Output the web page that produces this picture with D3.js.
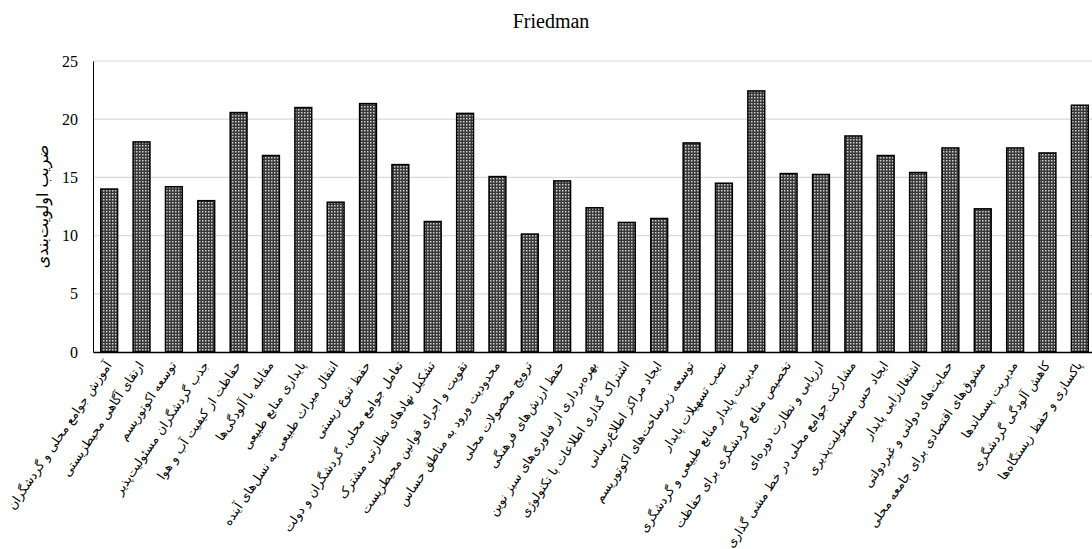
<!DOCTYPE html>
<html>
<head>
<meta charset="utf-8">
<script src="https://cdn.jsdelivr.net/npm/d3@7/dist/d3.min.js"></script>
<style>
  body { margin: 0; background: #fff; }
  svg { display: block; }
</style>
</head>
<body>
<svg id="chart"></svg>
<script>
// معیارها (به ترتیب نمودار)
const categories = [
    "آموزش جوامع محلی و گردشگران",
    "ارتقای آگاهی محیطزیستی",
    "توسعه اکوتوریسم",
    "جذب گردشگران مسئولیت‌پذیر",
    "حفاظت از کیفیت آب و هوا",
    "مقابله با آلودگی‌ها",
    "پایداری منابع طبیعی",
    "انتقال میراث طبیعی به نسل‌های آینده",
    "حفظ تنوع زیستی",
    "تعامل جوامع محلی، گردشگران و دولت",
    "تشکیل نهادهای نظارتی مشترک",
    "تقویت و اجرای قوانین محیطزیست",
    "محدودیت ورود به مناطق حساس",
    "ترویج محصولات محلی",
    "حفظ ارزش‌های فرهنگی",
    "بهره‌برداری از فناوری‌های سبز نوین",
    "اشتراک گذاری اطلاعات با تکنولوژی",
    "ایجاد مراکز اطلاع‌رسانی",
    "توسعه زیرساخت‌های اکوتوریسم",
    "نصب تسهیلات پایدار",
    "مدیریت پایدار منابع طبیعی و گردشگری",
    "تخصیص منابع گردشگری برای حفاظت",
    "ارزیابی و نظارت دوره‌ای",
    "مشارکت جوامع محلی در خط مشی گذاری",
    "ایجاد حس مسئولیت‌پذیری",
    "اشتغال‌زایی پایدار",
    "حمایت‌های دولتی و غیردولتی",
    "مشوق‌های اقتصادی برای جامعه محلی",
    "مدیریت پسماندها",
    "کاهش آلودگی گردشگری",
    "پاکسازی و حفظ زیستگاه‌ها"
]

// ضریب اولویت‌بندی (Friedman)
const values = [
    14.0, 18.05, 14.2, 13.0, 20.57, 16.88, 21.0, 12.87, 21.34, 16.1,
    11.21, 20.5, 15.07, 10.13, 14.7, 12.39, 11.13, 11.47, 17.96, 14.5,
    22.43, 15.33, 15.25, 18.56, 16.88, 15.42, 17.53, 12.3, 17.53, 17.1,
    21.2
]

const yTicks = [0, 5, 10, 15, 20, 25]

const TITLE = "Friedman"
const Y_TITLE = "ضریب اولویت‌بندی"

const WIDTH = 1092
const HEIGHT = 549
const LEFT = 93
const RIGHT = 1096
const TOP = 61
const BOTTOM = 352
const SERIF = "'Liberation Serif', 'Times New Roman', 'DejaVu Serif', serif"
const FA_FONT = "'DejaVu Sans', 'Noto Sans', sans-serif"

let svg = d3.select("#chart")
    .attr("width", WIDTH)
    .attr("height", HEIGHT)

// الگوی هاشور میله‌ها
let defs = svg.append("defs")
let pat = defs.append("pattern")
    .attr("id", "hatch")
    .attr("patternUnits", "userSpaceOnUse")
    .attr("width", 3)
    .attr("height", 3)
pat.append("rect")
    .attr("width", 3)
    .attr("height", 3)
    .style("fill", "#383838")
pat.append("rect")
    .attr("x", 1)
    .attr("y", 1)
    .attr("width", 1.5)
    .attr("height", 1.5)
    .style("fill", "#d0d0d0")

let xs = d3.scaleBand()
    .domain(categories)
    .range([LEFT, RIGHT])
    .paddingInner(0.48)
    .paddingOuter(0.24)

let ys = d3.scaleLinear()
    .domain([0, 25])
    .range([BOTTOM, TOP])

// خطوط شبکه
svg.append("g")
    .selectAll("line")
    .data(yTicks.filter(d => d > 0))
    .enter()
    .append("line")
    .attr("x1", LEFT)
    .attr("x2", WIDTH)
    .attr("y1", d => ys(d))
    .attr("y2", d => ys(d))
    .style("stroke", "#d9d9d9")
    .style("stroke-width", 1.2)

// y axis
let yAxis = svg.append("g")
    .attr("transform", `translate(${LEFT},0)`)
    .call(d3.axisLeft(ys).tickValues(yTicks).tickSize(0).tickPadding(15))
yAxis.select(".domain").style("stroke", "#000").style("stroke-width", 1)
yAxis.selectAll("text")
    .style("font-family", SERIF)
    .style("font-size", "16px")
    .style("fill", "#000")

// bars
svg.append("g")
    .selectAll("rect")
    .data(values)
    .enter()
    .append("rect")
    .attr("x", (d, i) => xs(categories[i]))
    .attr("y", d => ys(d))
    .attr("width", xs.bandwidth())
    .attr("height", d => ys(0) - ys(d))
    .style("fill", "url(#hatch)")
    .style("stroke", "#000")
    .style("stroke-width", 1.5)

// x axis
let xAxis = svg.append("g")
    .attr("transform", `translate(0,${BOTTOM})`)
    .call(d3.axisBottom(xs).tickSize(0).tickFormat(""))
xAxis.select(".domain").style("stroke", "#000").style("stroke-width", 1.5)

// برچسب‌های محور افقی
svg.append("g")
    .selectAll("text")
    .data(categories)
    .enter()
    .append("text")
    .text(d => d)
    .attr("transform", d => `translate(${xs(d) + xs.bandwidth() / 2 + 3},${BOTTOM + 13}) rotate(-56)`)
    .style("text-anchor", "end")
    .style("font-family", FA_FONT)
    .style("font-size", "12.5px")
    .style("fill", "#000")

// title
svg.append("text")
    .text(TITLE)
    .attr("x", 551)
    .attr("y", 28)
    .style("text-anchor", "middle")
    .style("font-family", SERIF)
    .style("font-size", "20px")
    .style("fill", "#000")

// y title
svg.append("text")
    .text(Y_TITLE)
    .attr("transform", `translate(48,${(TOP + BOTTOM) / 2}) rotate(-90)`)
    .style("text-anchor", "middle")
    .style("font-family", FA_FONT)
    .style("font-size", "16px")
    .style("fill", "#000")
</script>
</body>
</html>
